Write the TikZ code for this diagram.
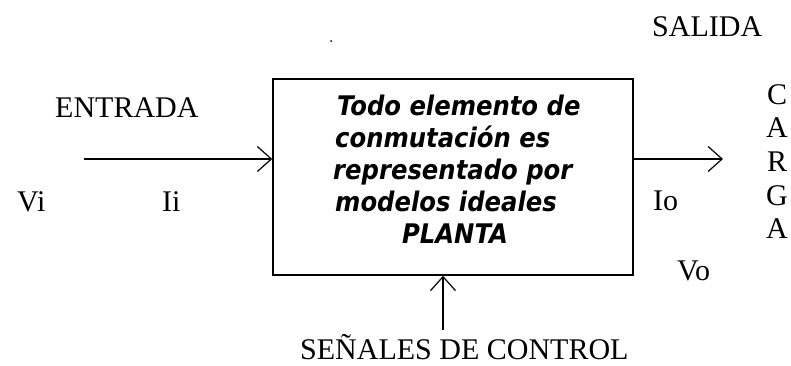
\documentclass[tikz,border=0pt]{standalone}
\usepackage{fontspec}
\usetikzlibrary{arrows.meta}
\newfontfamily\lblfont{Liberation Serif}
\newfontfamily\boxfont{DejaVu Sans Condensed Bold Oblique}
\begin{document}
\begin{tikzpicture}[x=1pt,y=1pt,
  lbl/.style={inner sep=0pt,font=\lblfont\fontsize{30}{34}\selectfont},
  boxtxt/.style={inner sep=0pt,font=\boxfont\fontsize{27}{32}\selectfont},
  plant/.style={draw,line width=1.5pt,minimum width=360pt,minimum height=196pt,inner sep=0pt},
  conn/.style={line width=1.4pt,-{Straight Barb[length=14pt,width=25pt,line width=1.2pt]}}]
\useasboundingbox (0,0) rectangle (791,365);
% block
\node[plant] (box) at (453,188) {};
\node[boxtxt,anchor=base west] (t1) at (337,250) {Todo elemento de};
\node[boxtxt,anchor=base west] (t2) at (335,218) {conmutación es};
\node[boxtxt,anchor=base west] (t3) at (333,186) {representado por};
\node[boxtxt,anchor=base west] (t4) at (335,154) {modelos ideales};
\node[boxtxt,anchor=base] (t5) at (455,122) {PLANTA};
% connector ends
\coordinate (inS) at (84,206);
\coordinate (outE) at (723,206);
\coordinate (ctlS) at (443,35);
\draw[conn] (inS) -- (inS -| box.west);
\draw[conn] (box.east |- outE) -- (outE);
\draw[conn] (ctlS) -- (ctlS |- box.south);
% labels
\node[lbl,anchor=base west] (entrada) at (55,248) {ENTRADA};
\node[lbl,anchor=base west] (vi) at (17,154) {Vi};
\node[lbl,anchor=base west] (ii) at (162,154) {Ii};
\node[lbl,anchor=base west] (salida) at (652,328) {SALIDA};
\node[lbl,anchor=base] (c1) at (777,261) {C};
\node[lbl,anchor=base] (c2) at (777,228) {A};
\node[lbl,anchor=base] (c3) at (777,194) {R};
\node[lbl,anchor=base] (c4) at (777,160) {G};
\node[lbl,anchor=base] (c5) at (777,127) {A};
\node[lbl,anchor=base west] (io) at (653,155) {Io};
\node[lbl,anchor=base west] (vo) at (677,85) {Vo};
\node[lbl,anchor=base west] (senales) at (300,6) {SEÑALES DE CONTROL};
\fill (331,324) circle (1pt);
\end{tikzpicture}
\end{document}
